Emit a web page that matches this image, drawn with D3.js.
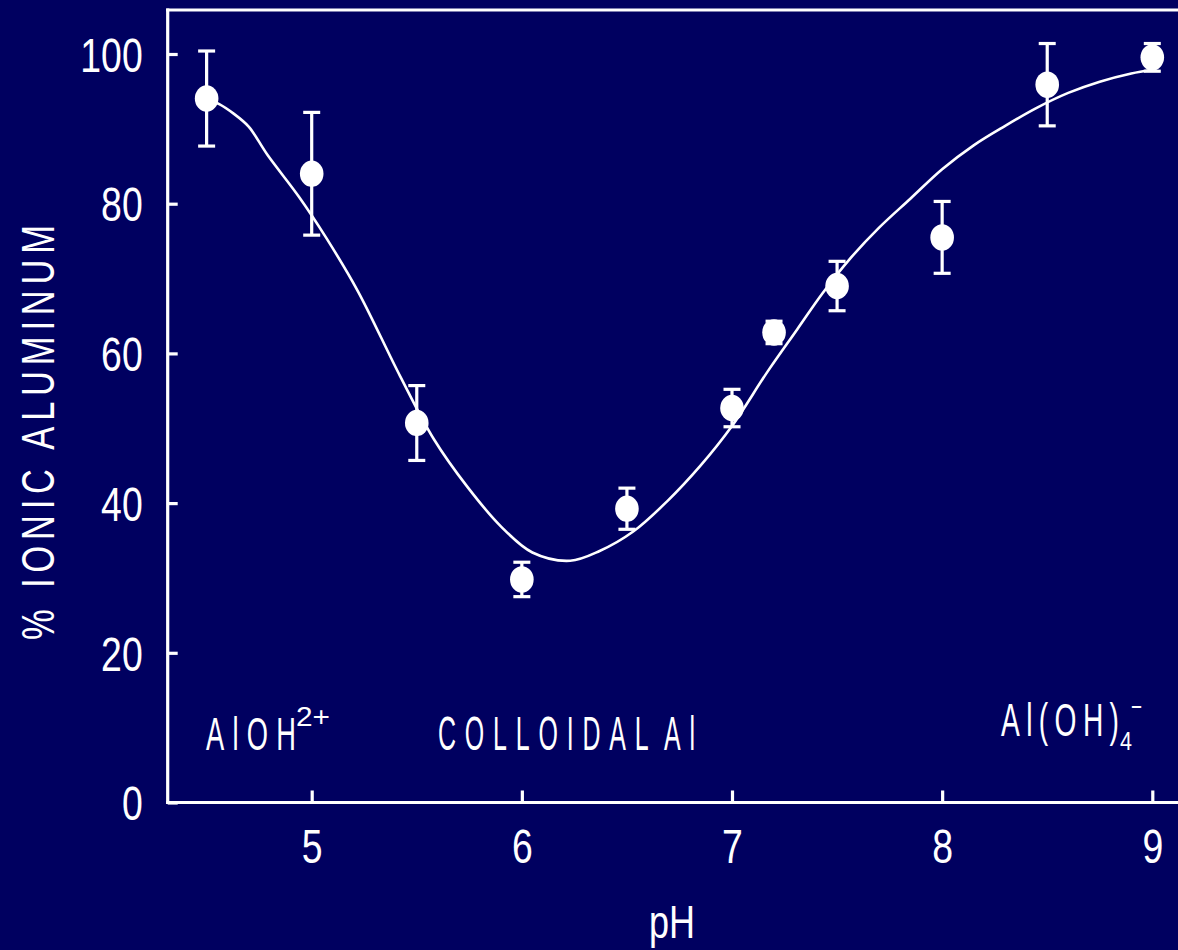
<!DOCTYPE html>
<html>
<head>
<meta charset="utf-8">
<script src="https://cdn.jsdelivr.net/npm/d3@7"></script>
<style>
  html, body { margin: 0; padding: 0; background: #000060; }
  svg { display: block; }
  text { font-family: "Liberation Sans", Arial, sans-serif; fill: #ffffff; }
</style>
</head>
<body>
<svg id="chart" width="1178" height="950"></svg>
<script>
// ---- data ----
const phPoints = [4.5, 5, 5.5, 6, 6.5, 7, 7.2, 7.5, 8, 8.5, 9];
const ionicValues = [94.05, 84.0, 50.7, 29.8, 39.25, 52.7, 62.8, 69.0, 75.5, 95.9, 99.55];
const ionicErrors = [6.35, 8.2, 5.0, 2.3, 2.75, 2.5, 1.5, 3.3, 4.8, 5.5, 1.85];

const curvePH = [4.5, 4.56, 4.63, 4.7, 4.79, 4.94, 5.07, 5.22, 5.42, 5.58, 5.74, 5.9, 6.05, 6.23, 6.37, 6.53, 6.69, 6.85, 7.0, 7.17, 7.31, 7.43, 7.56, 7.7, 7.85, 8.0, 8.15, 8.3, 8.45, 8.6, 8.75, 8.9, 9.0];
const curveValues = [94.0, 93.3, 92.0, 90.3, 86.5, 80.9, 75.4, 68.3, 57.0, 48.6, 42.2, 36.9, 33.4, 32.3, 33.6, 36.2, 40.2, 45.0, 50.3, 57.6, 63.2, 68.0, 72.6, 76.8, 80.7, 84.6, 87.8, 90.4, 92.8, 94.8, 96.3, 97.4, 97.9];

const xTicks = [5, 6, 7, 8, 9];
const yTicks = [0, 20, 40, 60, 80, 100];
const xTitle = "pH";
const yTitle = "% IONIC ALUMINUM";

// ---- layout ----
const svg = d3.select("#chart");
const W = 1178, H = 950;
svg.append("rect").attr("width", W).attr("height", H).attr("fill", "#000060");

const x = d3.scaleLinear().domain([5, 9]).range([311.7, 1152.3]);
const y = d3.scaleLinear().domain([0, 100]).range([802.5, 54]);
const frameLeft = 167.7, frameTop = 10, frameBottom = 802.5;

// frame
svg.append("line").attr("x1", frameLeft).attr("x2", frameLeft).attr("y1", frameTop - 1.5).attr("y2", frameBottom + 1.5)
  .attr("stroke", "#fff").attr("stroke-width", 3.2);
svg.append("line").attr("x1", frameLeft - 1.5).attr("x2", W).attr("y1", frameTop).attr("y2", frameTop)
  .attr("stroke", "#fff").attr("stroke-width", 3.2);
svg.append("line").attr("x1", frameLeft - 1.5).attr("x2", W).attr("y1", frameBottom).attr("y2", frameBottom)
  .attr("stroke", "#fff").attr("stroke-width", 3.2);

// axes
const digitW = 20.8;
const yAxis = d3.axisLeft(y).tickValues(yTicks).tickSize(-10).tickPadding(25).tickFormat(d3.format("d"));
const gy = svg.append("g").attr("transform", `translate(${frameLeft},0)`).call(yAxis);
gy.select(".domain").remove();
gy.selectAll(".tick line").attr("stroke", "#fff").attr("stroke-width", 3.2);
gy.selectAll(".tick text")
  .attr("fill", "#fff").attr("font-size", 48).attr("font-family", "Liberation Sans, Arial, sans-serif")
  .attr("dy", "0.36em")
  .attr("textLength", d => String(d).length * digitW).attr("lengthAdjust", "spacingAndGlyphs");

const xAxis = d3.axisBottom(x).tickValues(xTicks).tickSize(-12).tickPadding(26.5).tickFormat(d3.format("d"));
const gx = svg.append("g").attr("transform", `translate(0,${frameBottom})`).call(xAxis);
gx.select(".domain").remove();
gx.selectAll(".tick line").attr("stroke", "#fff").attr("stroke-width", 3.2);
gx.selectAll(".tick text")
  .attr("fill", "#fff").attr("font-size", 48).attr("font-family", "Liberation Sans, Arial, sans-serif")
  .attr("dy", "0.71em")
  .attr("textLength", d => String(d).length * digitW).attr("lengthAdjust", "spacingAndGlyphs");

// titles
svg.append("text").attr("x", 672).attr("y", 938).attr("text-anchor", "middle")
  .attr("font-size", 47).attr("textLength", 46).attr("lengthAdjust", "spacingAndGlyphs").text(xTitle);

function condensed(t, tx, ty, sx, width, size, anchor, extra) {
  return svg.append("text")
    .attr("transform", `translate(${tx},${ty})${extra || ""} scale(${sx},1)`)
    .attr("font-size", size)
    .attr("text-anchor", anchor || "start")
    .attr("textLength", width / sx)
    .attr("lengthAdjust", "spacing")
    .text(t);
}
condensed(yTitle, 54, 432.5, 0.75, 415, 46, "middle", " rotate(-90)");

// annotations
condensed("AlOH", 206, 750, 0.58, 90, 47, "start");
svg.append("text").attr("x", 296).attr("y", 726).attr("font-size", 28)
  .attr("textLength", 34).attr("lengthAdjust", "spacingAndGlyphs").text("2+");
condensed("COLLOIDAL Al", 438, 750, 0.52, 257, 48, "start").attr("word-spacing", -13);
condensed("Al(OH)", 1001, 736, 0.6, 118, 47, "start");
svg.append("text").attr("x", 1120).attr("y", 750).attr("font-size", 26)
  .attr("textLength", 12).attr("lengthAdjust", "spacingAndGlyphs").text("4");
svg.append("text").attr("x", 1131).attr("y", 716).attr("font-size", 28)
  .attr("textLength", 11).attr("lengthAdjust", "spacingAndGlyphs").text("\u2212");

// fitted curve
const line = d3.line().x(d => x(d[0])).y(d => y(d[1])).curve(d3.curveCatmullRom.alpha(0.5));
svg.append("path").datum(curvePH.map((p, i) => [p, curveValues[i]]))
  .attr("d", line).attr("fill", "none").attr("stroke", "#fff").attr("stroke-width", 2.6);

// error bars + markers
const pts = phPoints.map((p, i) => ({ p, v: ionicValues[i], e: ionicErrors[i] }));
const eb = svg.append("g").attr("stroke", "#fff").attr("stroke-width", 3.2);
pts.forEach(d => {
  eb.append("line").attr("x1", x(d.p)).attr("x2", x(d.p)).attr("y1", y(d.v + d.e)).attr("y2", y(d.v - d.e));
  eb.append("line").attr("x1", x(d.p) - 8.5).attr("x2", x(d.p) + 8.5).attr("y1", y(d.v + d.e)).attr("y2", y(d.v + d.e));
  eb.append("line").attr("x1", x(d.p) - 8.5).attr("x2", x(d.p) + 8.5).attr("y1", y(d.v - d.e)).attr("y2", y(d.v - d.e));
});
svg.append("g").selectAll("ellipse").data(pts).join("ellipse")
  .attr("cx", d => x(d.p)).attr("cy", d => y(d.v)).attr("rx", 11.8).attr("ry", 13.2)
  .attr("fill", "#fff");
</script>
</body>
</html>
